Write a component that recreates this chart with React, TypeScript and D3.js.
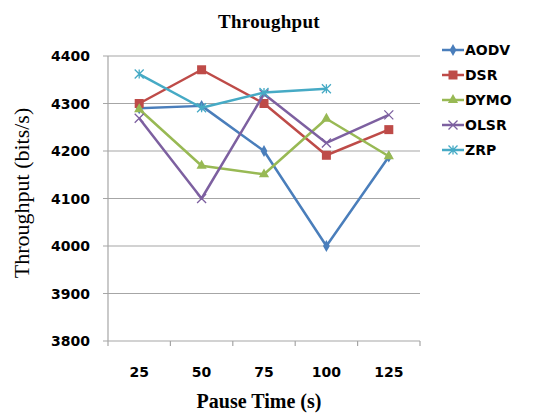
import React, { useEffect, useRef } from 'react';
import * as d3 from 'd3';

const pauseTimes = ['25', '50', '75', '100', '125'];
const yTicks = [3800, 3900, 4000, 4100, 4200, 4300, 4400];

const aodv = [4290, 4295, 4200, 4000, 4188];
const dsr = [4300, 4371, 4300, 4191, 4245];
const dymo = [4288, 4169, 4151, 4268, 4189];
const olsr = [4269, 4100, 4320, 4217, 4276];
const zrp = [4362, 4291, 4323, 4331];

const seriesNames = ['AODV', 'DSR', 'DYMO', 'OLSR', 'ZRP'];
const seriesValues = [aodv, dsr, dymo, olsr, zrp];
const seriesColors = ['#4a7ebb', '#be4b48', '#98b954', '#7d60a0', '#46aac5'];
const seriesMarkers = ['diamond', 'square', 'triangle', 'x', 'star'];

const W = 536;
const H = 415;

const drawMarker = (g: any, kind: string, cx: number, cy: number, color: string) => {
    if (kind === 'diamond') {
        g.append('path')
            .attr('d', d3.symbol().type(d3.symbolDiamond).size(40)())
            .attr('transform', `translate(${cx},${cy})`)
            .attr('fill', color);
    } else if (kind === 'square') {
        g.append('rect')
            .attr('x', cx - 4.5).attr('y', cy - 4.5)
            .attr('width', 9).attr('height', 9)
            .attr('fill', color);
    } else if (kind === 'triangle') {
        g.append('path')
            .attr('d', d3.symbol().type(d3.symbolTriangle).size(45)())
            .attr('transform', `translate(${cx},${cy})`)
            .attr('fill', color);
    } else {
        // x and asterisk markers
        const r = 4.5;
        g.append('path')
            .attr('d', `M${cx - r},${cy - r}L${cx + r},${cy + r}M${cx - r},${cy + r}L${cx + r},${cy - r}` +
                (kind === 'star' ? `M${cx},${cy - r}L${cx},${cy + r}` : ''))
            .attr('stroke', color)
            .attr('stroke-width', 1.3)
            .attr('fill', 'none');
    }
};

const App = () => {
    const svgRef = useRef<SVGSVGElement>(null);

    useEffect(() => {
        if (!svgRef.current) return;
        const svg = d3.select(svgRef.current);
        svg.selectAll('*').remove();

        const plot = { left: 108, right: 420, top: 56, bottom: 341 };

        const x = d3.scaleBand<string>()
            .domain(pauseTimes)
            .range([plot.left, plot.right]);

        const y = d3.scaleLinear()
            .domain([3800, 4400])
            .range([plot.bottom, plot.top]);

        svg.append('rect').attr('width', W).attr('height', H).attr('fill', '#fff');

        // Gridlines
        svg.append('g')
            .selectAll('line')
            .data(yTicks)
            .enter()
            .append('line')
            .attr('x1', plot.left - 5)
            .attr('x2', plot.right)
            .attr('y1', d => y(d))
            .attr('y2', d => y(d))
            .attr('stroke', '#a6a6a6')
            .attr('stroke-width', 1.2);

        // Axis line
        svg.append('line')
            .attr('x1', plot.left).attr('x2', plot.left)
            .attr('y1', plot.top).attr('y2', plot.bottom)
            .attr('stroke', '#a6a6a6').attr('stroke-width', 1.2);

        // X ticks at band edges
        const edges = pauseTimes.map(d => x(d) as number).concat([plot.right]);
        svg.append('g')
            .selectAll('line')
            .data(edges)
            .enter()
            .append('line')
            .attr('x1', d => d).attr('x2', d => d)
            .attr('y1', plot.bottom).attr('y2', plot.bottom + 5)
            .attr('stroke', '#a6a6a6').attr('stroke-width', 1.2);

        // Y tick labels
        svg.append('g')
            .selectAll('text')
            .data(yTicks)
            .enter()
            .append('text')
            .attr('x', 90)
            .attr('y', d => y(d))
            .attr('dy', '0.36em')
            .attr('text-anchor', 'end')
            .style('font-family', 'DejaVu Sans')
            .style('font-weight', 'bold')
            .style('font-size', '14px')
            .style('fill', '#000')
            .text(d => d);

        // X tick labels
        svg.append('g')
            .selectAll('text')
            .data(pauseTimes)
            .enter()
            .append('text')
            .attr('x', d => (x(d) as number) + x.bandwidth() / 2)
            .attr('y', 372)
            .attr('dy', '0.36em')
            .attr('text-anchor', 'middle')
            .style('font-family', 'DejaVu Sans')
            .style('font-weight', 'bold')
            .style('font-size', '14px')
            .style('fill', '#000')
            .text(d => d);

        // Lines and markers
        seriesValues.forEach((vals, i) => {
            const pts = vals.map((v, j) => [(x(pauseTimes[j]) as number) + x.bandwidth() / 2, y(v)] as [number, number]);
            svg.append('path')
                .datum(pts)
                .attr('fill', 'none')
                .attr('stroke', seriesColors[i])
                .attr('stroke-width', 2.5)
                .attr('stroke-linejoin', 'round')
                .attr('d', d3.line());
            const g = svg.append('g');
            pts.forEach(p => drawMarker(g, seriesMarkers[i], p[0], p[1], seriesColors[i]));
        });

        // Legend
        const legend = svg.append('g');
        seriesNames.forEach((name, i) => {
            const ly = 50 + i * 25;
            legend.append('line')
                .attr('x1', 442).attr('x2', 464)
                .attr('y1', ly).attr('y2', ly)
                .attr('stroke', seriesColors[i])
                .attr('stroke-width', 2.5);
            drawMarker(legend, seriesMarkers[i], 453, ly, seriesColors[i]);
            legend.append('text')
                .attr('x', 465)
                .attr('y', ly)
                .attr('dy', '0.36em')
                .style('font-family', 'DejaVu Sans')
                .style('font-weight', 'bold')
                .style('font-size', '14px')
                .style('fill', '#000')
                .text(name);
        });

        // Title
        svg.append('text')
            .attr('x', 269)
            .attr('y', 28)
            .attr('text-anchor', 'middle')
            .style('font-family', 'Liberation Serif')
            .style('font-weight', 'bold')
            .style('font-size', '19px')
            .style('letter-spacing', '0.3px')
            .text('Throughput');

        // X label
        svg.append('text')
            .attr('x', 259)
            .attr('y', 408)
            .attr('text-anchor', 'middle')
            .style('font-family', 'Liberation Serif')
            .style('font-weight', 'bold')
            .style('font-size', '20px')
            .text('Pause Time (s)');

        // Y label
        svg.append('text')
            .attr('transform', 'translate(29,193) rotate(-90)')
            .attr('text-anchor', 'middle')
            .style('font-family', 'Liberation Serif')
            .style('font-size', '22px')
            .text('Throughput (bits/s)');
    }, []);

    return (
        <div style={{ position: 'absolute', left: 0, top: 0 }}>
            <svg ref={svgRef} width={W} height={H} style={{ display: 'block' }}></svg>
        </div>
    );
};

export default App;
